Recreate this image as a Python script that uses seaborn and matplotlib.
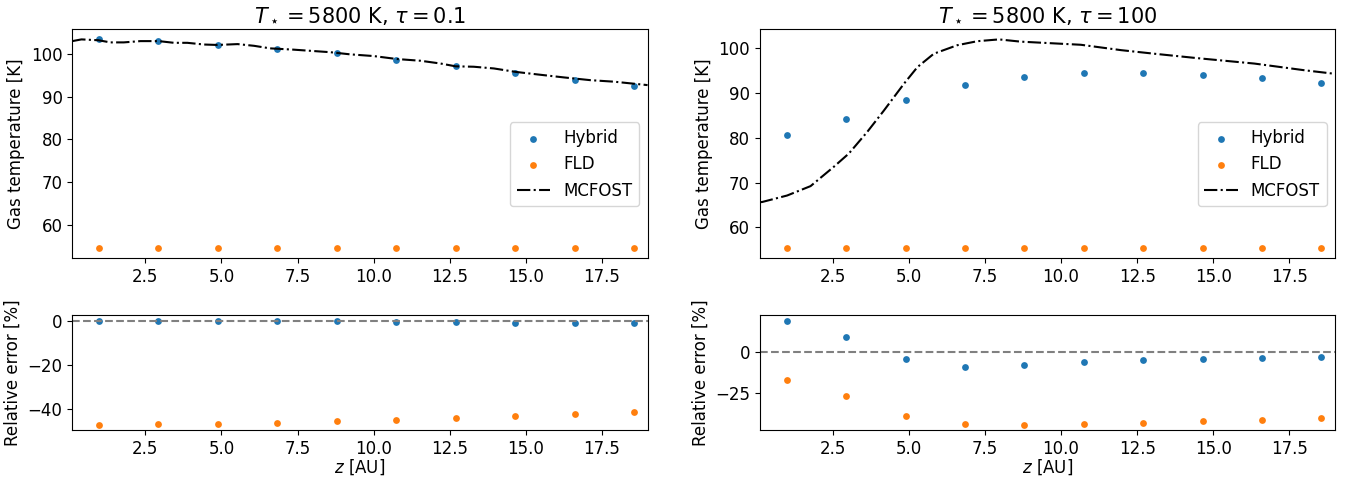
import numpy as np
import pandas as pd
import matplotlib
matplotlib.use("Agg")
import matplotlib.pyplot as plt
import seaborn as sns

# cell centres [AU]
z = [0.98, 2.93, 4.89, 6.84, 8.79, 10.74, 12.70, 14.65, 16.60, 18.55]

# tau = 0.1
hybrid_T_thin = [103.4, 103.0, 102.2, 101.2, 100.1, 98.6, 97.1, 95.5, 94.0, 92.5]
fld_T_thin = [54.6] * 10
mcfost_z_thin = [0.1, 0.4, 0.96, 1.35, 1.79, 2.34, 2.94, 3.44, 3.88, 4.43, 4.87, 5.53,
                 6.07, 6.6, 7.37, 8.58, 9.23, 10.0, 10.77, 11.54, 12.2, 12.69, 13.29,
                 13.95, 14.66, 15.38, 16.25, 17.13, 17.9, 18.45, 19.0]
mcfost_T_thin = [103.0, 103.4, 103.2, 102.7, 102.7, 103.0, 103.0, 102.6, 102.6, 102.2,
                 102.1, 102.3, 101.9, 101.3, 101.0, 100.4, 99.9, 99.5, 98.8, 98.4,
                 97.75, 97.1, 97.0, 96.6, 95.8, 95.2, 94.5, 93.85, 93.5, 93.1, 92.7]
hybrid_err_thin = [0.1, 0.0, 0.1, 0.0, -0.3, -0.6, -0.6, -0.9, -0.9, -0.9]
fld_err_thin = [-47.1, -46.9, -46.6, -46.2, -45.5, -44.8, -43.9, -43.1, -42.2, -41.3]

# tau = 100
hybrid_T_thick = [80.6, 84.2, 88.4, 91.8, 93.7, 94.5, 94.5, 94.1, 93.3, 92.3]
fld_T_thick = [55.4] * 10
mcfost_z_thick = [0.1, 0.18, 1.0, 1.77, 2.53, 3.03, 3.63, 4.18, 4.84, 5.28, 5.82, 6.59,
                  7.25, 7.96, 8.67, 10.65, 11.97, 13.06, 14.49, 16.35, 18.0, 19.0]
mcfost_T_thick = [65.6, 65.65, 67.1, 69.2, 73.5, 76.5, 81.3, 86.1, 92.1, 95.8, 98.8, 100.7,
                  101.6, 102.0, 101.5, 100.8, 99.6, 98.8, 97.8, 96.6, 95.1, 94.3]
hybrid_err_thick = [19.6, 9.7, -4.2, -8.9, -7.9, -6.2, -4.8, -4.0, -3.5, -2.7]
fld_err_thick = [-17.2, -27.1, -39.3, -44.3, -44.9, -44.5, -43.6, -42.6, -41.8, -40.7]

titles = [r"$T_\star = 5800$ K, $\tau = 0.1$", r"$T_\star = 5800$ K, $\tau = 100$"]

plt.rcParams["font.size"] = 12

fig, axes = plt.subplots(2, 2, figsize=(13.52, 4.79), dpi=100,
                         gridspec_kw={"height_ratios": [2, 1]}, sharex="col")
fig.subplots_adjust(left=0.0535, right=0.9874, top=0.9395, bottom=0.1023,
                    wspace=0.195, hspace=0.332)

cases = [
    (hybrid_T_thin, fld_T_thin, mcfost_z_thin, mcfost_T_thin, hybrid_err_thin, fld_err_thin),
    (hybrid_T_thick, fld_T_thick, mcfost_z_thick, mcfost_T_thick, hybrid_err_thick, fld_err_thick),
]

for col, (hT, fT, mz, mT, hE, fE) in enumerate(cases):
    ax = axes[0, col]
    sns.scatterplot(x=z, y=hT, ax=ax, color="tab:blue", s=24, linewidth=0, label="Hybrid")
    sns.scatterplot(x=z, y=fT, ax=ax, color="tab:orange", s=24, linewidth=0, label="FLD")
    sns.lineplot(x=mz, y=mT, ax=ax, color="black", linestyle="-.", linewidth=1.5,
                 label="MCFOST")
    ax.set_title(titles[col], fontsize=15, pad=5)
    ax.set_ylabel("Gas temperature [K]")
    ax.legend(loc="center right", bbox_to_anchor=(1.0, 0.41))
    ax.tick_params(labelbottom=True)

    ax2 = axes[1, col]
    sns.scatterplot(x=z, y=hE, ax=ax2, color="tab:blue", s=24, linewidth=0)
    sns.scatterplot(x=z, y=fE, ax=ax2, color="tab:orange", s=24, linewidth=0)
    ax2.axhline(0, color="gray", linestyle="--", linewidth=1.5)
    ax2.set_ylabel("Relative error [%]")
    ax2.set_xlabel(r"$z$ [AU]", labelpad=0)
    ax2.set_xlim(0.1, 19.0)

fig.savefig("out.png", dpi=100)
